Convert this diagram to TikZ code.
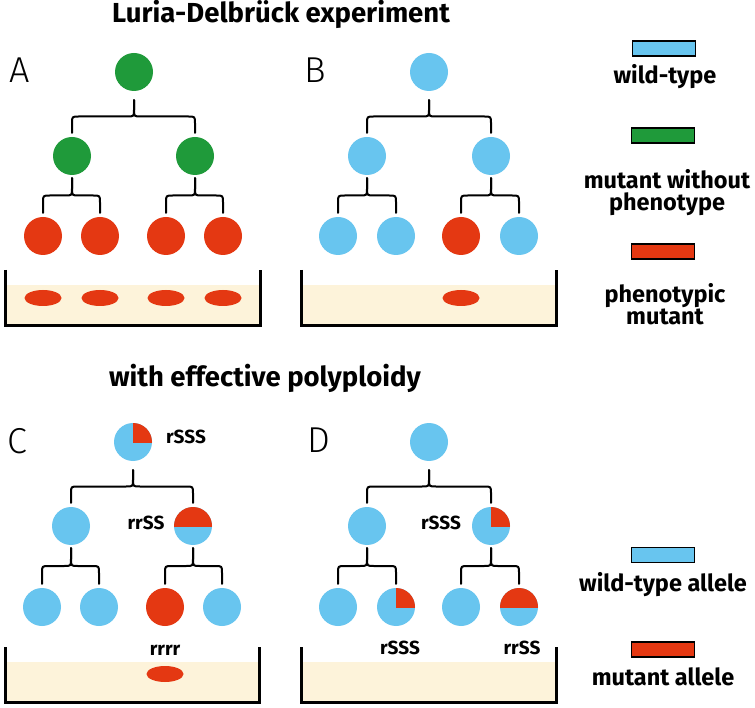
\documentclass[tikz,border=0pt]{standalone}
\usepackage{fontspec}
\setmainfont{Fira Sans}
\usetikzlibrary{calc,shapes.geometric}
\definecolor{wt}{HTML}{68C5EF}
\definecolor{mg}{HTML}{1F9A3A}
\definecolor{mr}{HTML}{E43812}
\definecolor{agar}{HTML}{FDF3DA}
\newfontfamily\light{Fira Sans Light}
\tikzset{
 cell/.style={circle, minimum size=38pt, inner sep=0pt, draw=none},
 colony/.style={ellipse, fill=mr, minimum width=37pt, minimum height=16pt, inner sep=0pt},
 bracestyle/.style={line width=2pt, line cap=round, line join=round},
 wall/.style={line width=3pt, line join=miter},
 titletext/.style={font=\bfseries\fontsize{27.5}{30}\selectfont, anchor=base},
 lbl/.style={font=\bfseries\fontsize{19}{20}\selectfont, inner sep=0pt},
 letter/.style={font=\light\fontsize{36}{40}\selectfont, inner sep=0pt},
 legtxt/.style={font=\bfseries\fontsize{23.5}{22.5}\selectfont, align=center, anchor=base, inner sep=0pt},
 legbox/.style={draw=black, line width=1.5pt, minimum width=63pt, minimum height=15pt, inner sep=0pt},
}
\newcommand\cellbrace[4]{%
 \coordinate (bT) at ($(#1.south)+(0,#4)$);
 \coordinate (bL) at ($(#2.north)+(0,-4)$);
 \coordinate (bR) at ($(#3.north)+(0,-4)$);
 \coordinate (bM) at ($(bT)!0.5!(bL)$);
 \draw[bracestyle] (bL) -- ($(bL|-bM)+(0,7)$) .. controls (bL|-bM) .. ($(bL|-bM)+(7,0)$)
   -- ($(bT|-bM)+(-7,0)$) .. controls (bT|-bM) .. ($(bT|-bM)+(0,-7)$) -- (bT);
 \draw[bracestyle] (bR) -- ($(bR|-bM)+(0,7)$) .. controls (bR|-bM) .. ($(bR|-bM)+(-7,0)$)
   -- ($(bT|-bM)+(7,0)$) .. controls (bT|-bM) .. ($(bT|-bM)+(0,-7)$) -- (bT);
}
\newcommand\quartermut[1]{%
 \begin{scope}\clip (#1.center) rectangle ($(#1.center)+(21,-21)$);
 \fill[mr] (#1.center) circle[radius=19pt];\end{scope}}
\newcommand\halfmut[1]{%
 \begin{scope}\clip ($(#1.center)+(-21,0)$) rectangle ($(#1.center)+(21,-21)$);
 \fill[mr] (#1.center) circle[radius=19pt];\end{scope}}
\newcommand\dish[4]{%
 \fill[agar] (#1,#3+15) rectangle (#2,#4);
 \draw[wall] (#1,#3) -- (#1,#4) -- (#2,#4) -- (#2,#3);}
\begin{document}
\begin{tikzpicture}[x=1pt,y=-1pt]
\useasboundingbox[fill=white] (0,0) rectangle (755,708);
% titles
\node[titletext] (t1) at (281,23) {Luria-Delbrück experiment};
\node[titletext] (t2) at (265,387) {with effective polyploidy};
% panel letters
\node[letter] (lA) at (20,70) {A};
\node[letter] (lB) at (315,70) {B};
\node[letter] (lC) at (17,441) {C};
\node[letter] (lD) at (319,440) {D};
% dishes
\dish{5}{260}{270}{326}
\dish{301}{556}{270}{326}
\dish{5}{259}{647}{702}
\dish{301}{556}{647}{702}
% panel A
\node[cell, fill=mg] (a0) at (134,72) {};
\node[cell, fill=mg] (a1) at (72,156) {};
\node[cell, fill=mg] (a2) at (195,156) {};
\node[cell, fill=mr] (a3) at (43,236) {};
\node[cell, fill=mr] (a4) at (100,236) {};
\node[cell, fill=mr] (a5) at (166,236) {};
\node[cell, fill=mr] (a6) at (223,236) {};
\cellbrace{a0}{a1}{a2}{9}
\cellbrace{a1}{a3}{a4}{3}
\cellbrace{a2}{a5}{a6}{3}
\node[colony] (ca1) at (43,298) {};
\node[colony] (ca2) at (100,298) {};
\node[colony] (ca3) at (166,298) {};
\node[colony] (ca4) at (223,298) {};
% panel B
\node[cell, fill=wt] (b0) at (429,72) {};
\node[cell, fill=wt] (b1) at (367,156) {};
\node[cell, fill=wt] (b2) at (491,156) {};
\node[cell, fill=wt] (b3) at (338,236) {};
\node[cell, fill=wt] (b4) at (396,236) {};
\node[cell, fill=mr] (b5) at (461,236) {};
\node[cell, fill=wt] (b6) at (519,236) {};
\cellbrace{b0}{b1}{b2}{9}
\cellbrace{b1}{b3}{b4}{3}
\cellbrace{b2}{b5}{b6}{3}
\node[colony] (cb1) at (461,298) {};
% panel C
\node[cell, fill=wt] (c0) at (133,442) {};
\quartermut{c0}
\node[cell, fill=wt] (c1) at (71,526) {};
\node[cell, fill=wt] (c2) at (193,526) {};
\halfmut{c2}
\node[cell, fill=wt] (c3) at (42,607) {};
\node[cell, fill=wt] (c4) at (99,607) {};
\node[cell, fill=mr] (c5) at (165,607) {};
\node[cell, fill=wt] (c6) at (222,607) {};
\cellbrace{c0}{c1}{c2}{9}
\cellbrace{c1}{c3}{c4}{3}
\cellbrace{c2}{c5}{c6}{3}
\node[colony] (cc1) at (165,674) {};
\node[lbl] (tc0) at (186,437) {rSSS};
\node[lbl] (tc2) at (146,523) {rrSS};
\node[lbl] (tc5) at (165,650) {rrrr};
% panel D
\node[cell, fill=wt] (d0) at (429,442) {};
\node[cell, fill=wt] (d1) at (367,526) {};
\node[cell, fill=wt] (d2) at (491,526) {};
\quartermut{d2}
\node[cell, fill=wt] (d3) at (338,607) {};
\node[cell, fill=wt] (d4) at (396,607) {};
\quartermut{d4}
\node[cell, fill=wt] (d5) at (461,607) {};
\node[cell, fill=wt] (d6) at (519,607) {};
\halfmut{d6}
\cellbrace{d0}{d1}{d2}{9}
\cellbrace{d1}{d3}{d4}{3}
\cellbrace{d2}{d5}{d6}{3}
\node[lbl] (td2) at (441,523) {rSSS};
\node[lbl] (td4) at (400,648) {rSSS};
\node[lbl] (td6) at (522,648) {rrSS};
% legend
\node[legbox, fill=wt] (k1) at (664,48.5) {};
\node[legtxt] (k1t) at (665,84) {wild-type};
\node[legbox, fill=mg] (k2) at (663,135.5) {};
\node[legtxt] (k2t) at (667,211) {mutant without\\phenotype};
\node[legbox, fill=mr] (k3) at (663,251.5) {};
\node[legtxt] (k3t) at (665,325) {phenotypic\\mutant};
\node[legbox, fill=wt] (k4) at (663,555) {};
\node[legtxt] (k4t) at (663,591) {wild-type allele};
\node[legbox, fill=mr] (k5) at (663,649.5) {};
\node[legtxt] (k5t) at (663,685) {mutant allele};
\end{tikzpicture}
\end{document}
